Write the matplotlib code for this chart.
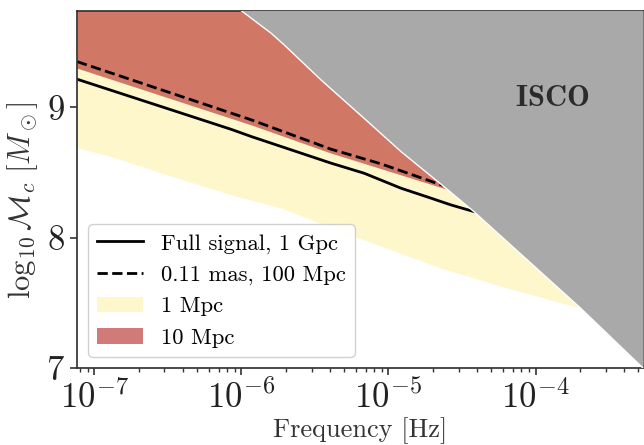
import matplotlib
matplotlib.use("Agg")
import matplotlib.pyplot as plt
import numpy as np

plt.rcParams['font.family'] = 'serif'
plt.rcParams['font.serif'] = ['cmr10']
plt.rcParams['mathtext.fontset'] = 'cm'
plt.rcParams['axes.formatter.use_mathtext'] = True
plt.rcParams['axes.unicode_minus'] = False

# log10 frequency [Hz] / log10 chirp mass
full_f = [-7.117, -6.068, -5.932, -5.390, -5.166, -4.915, -4.712, -4.576, -4.42]
full_m = [9.215, 8.83, 8.775, 8.571, 8.494, 8.379, 8.303, 8.251, 8.200]

dash_f = [-7.117, -5.932, -5.390, -5.051, -4.63]
dash_m = [9.35, 8.903, 8.678, 8.566, 8.40]

# lower edge of the 10 Mpc region
red_f = [-7.117, -5.932, -5.390, -4.60]
red_m = [9.30, 8.864, 8.648, 8.37]

# lower edge of the 1 Mpc region
low_f = [-7.117, -6.881, -6.542, -6.068, -5.729, -5.186, -4.644, -4.192, -3.695]
low_m = [8.69, 8.621, 8.494, 8.328, 8.226, 7.991, 7.766, 7.613, 7.460]

isco_f = [-6.0, -5.797, -5.708, -5.458, -5.153, -4.915, -4.61, -4.42, -3.695, -3.27]
isco_m = [9.74, 9.567, 9.477, 9.209, 8.902, 8.660, 8.379, 8.200, 7.460, 7.0]

top = 10.0
dark = '#333333'

fig = plt.figure(figsize=(6.44, 4.45), dpi=100)
ax = fig.add_axes([0.1196, 0.173, 0.8788, 0.8023])

f = lambda a: 10 ** np.array(a)

yel = ax.fill_between(f(low_f), low_m, top, color='gold', alpha=0.2, lw=0, label='1 Mpc')
red = ax.fill_between(f(red_f), red_m, top, color='firebrick', alpha=0.6, lw=0, label='10 Mpc')
l1, = ax.plot(f(full_f), full_m, color='k', lw=2, label='Full signal, 1 Gpc')
l2, = ax.plot(f(dash_f), dash_m, color='k', lw=2, ls='--', label='0.11 mas, 100 Mpc')
ax.fill_between(f(isco_f), isco_m, top, color='darkgray', lw=0, zorder=5)
ax.plot(f(isco_f), isco_m, color='white', lw=1, zorder=6)
ax.text(10 ** -3.89, 9.07, r'$\mathbf{ISCO}$', fontsize=22, color='#2b2b2b',
        ha='center', va='center', zorder=7)

ax.set_xscale('log')
ax.set_xlim(10 ** -7.117, 10 ** -3.27)
ax.set_ylim(7, 9.738)
ax.set_yticks([7, 8, 9])

for s in ax.spines.values():
    s.set_color(dark)
    s.set_linewidth(1.25)
ax.tick_params(which='both', direction='out', color=dark, labelcolor='#222222', labelsize=25)
ax.tick_params(which='major', length=5, width=1.2)
ax.tick_params(which='minor', length=3, width=1.0)

ax.set_xlabel('Frequency [Hz]', fontsize=19, color=dark, labelpad=2)
ax.set_ylabel(r'$\log_{10}\mathcal{M}_c\ [M_\odot]$', fontsize=22, color=dark)
ax.yaxis.set_label_coords(-0.066, 0.47)

leg = ax.legend(handles=[l1, l2, yel, red], loc='lower left', fontsize=16.3,
                handlelength=2.0, framealpha=0.9)
leg.set_zorder(10)

fig.savefig('out.png', dpi=100)
